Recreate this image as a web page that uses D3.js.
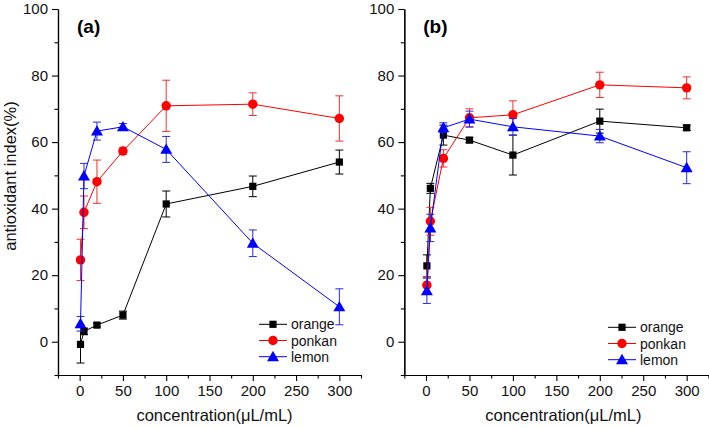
<!DOCTYPE html>
<html><head><meta charset="utf-8">
<script src="https://cdn.jsdelivr.net/npm/d3@7"></script>
<style>body{margin:0;background:#fff}svg{display:block}text{font-family:"Liberation Sans",Arial,sans-serif}</style>
</head><body><svg id="c" width="709" height="428"></svg>
<script>
const conc = [1, 5, 20, 50, 100, 200, 300];
const seriesNames = ["orange", "ponkan", "lemon"];
const xTicks = [0, 50, 100, 150, 200, 250, 300];
const yTicks = [0, 20, 40, 60, 80, 100];
// panel (a)
const aOrange = [-0.8, 3.1, 5.0, 8.0, 41.4, 46.7, 54.0];
const aOrangeErr = [5.6, 1.0, 0.6, 1.2, 3.9, 3.1, 3.6];
const aPonkan = [24.6, 38.9, 48.1, 57.3, 70.9, 71.4, 67.1];
const aPonkanErr = [6.2, 4.9, 6.5, 1.0, 7.7, 3.4, 6.8];
const aLemon = [5.4, 49.8, 63.3, 64.6, 57.8, 29.6, 10.5];
const aLemonErr = [2.2, 3.8, 2.7, 1.0, 3.9, 4.0, 5.4];
// panel (b)
const bOrange = [22.8, 46.1, 62.1, 60.6, 56.1, 66.3, 64.3];
const bOrangeErr = [3.3, 1.5, 3.0, 0.8, 6.0, 3.6, 0.8];
const bPonkan = [17.0, 36.2, 55.1, 67.3, 68.2, 77.2, 76.3];
const bPonkanErr = [2.5, 4.2, 2.6, 2.7, 4.2, 3.8, 3.3];
const bLemon = [15.3, 34.2, 64.3, 66.9, 64.6, 61.8, 52.3];
const bLemonErr = [3.8, 4.1, 1.5, 2.4, 2.5, 2.0, 4.8];

const colors = ["#000000", "#ff0000", "#0000ff"];
const errColors = ["#000000", "#f03030", "#2a2ae0"];
const symbols = [d3.symbolSquare, d3.symbolCircle, d3.symbolTriangle];
const symSizes = [52, 70, 62];

const svg = d3.select("#c");

function panel(cfg) {
  const g = svg.append("g");
  const x = d3.scaleLinear().domain([-25, 325]).range([cfg.x0, cfg.x1]);
  const y = d3.scaleLinear().domain([-10, 100]).range([375, 9]);

  const xAx = d3.axisBottom(x).tickValues(xTicks).tickSize(6).tickSizeOuter(0).tickPadding(4);
  const xMinor = d3.axisBottom(x).tickValues(d3.range(-25, 326, 25).filter(v => v % 50 !== 0)).tickSize(3.5).tickFormat("").tickSizeOuter(0);
  const yAx = d3.axisLeft(y).tickValues(yTicks).tickSize(6).tickSizeOuter(0).tickPadding(4);
  const yMinor = d3.axisLeft(y).tickValues(d3.range(-10, 101, 10).filter(v => v % 20 !== 0)).tickSize(3.5).tickFormat("").tickSizeOuter(0);
  [xAx, xMinor].forEach(a => g.append("g").attr("transform", `translate(0,${y(-10)})`).call(a));
  [yAx, yMinor].forEach(a => g.append("g").attr("transform", `translate(${x(-25)},0)`).call(a));
  g.selectAll(".domain").attr("stroke", "#000").attr("stroke-width", 1.2);
  g.selectAll(".tick line").attr("stroke", "#000").attr("stroke-width", 1.1);
  g.selectAll(".tick text").attr("font-size", 15).attr("fill", "#111")
    .attr("font-family", '"Liberation Sans",Arial,sans-serif');

  cfg.data.forEach((vals, si) => {
    const errs = cfg.errs[si];
    const pts = conc.map((c, i) => ({c, v: vals[i], e: errs[i]}));
    const sg = g.append("g");
    pts.forEach(p => {
      const cx = x(p.c);
      sg.append("line").attr("x1", cx).attr("x2", cx).attr("y1", y(p.v - p.e)).attr("y2", y(p.v + p.e))
        .attr("stroke", errColors[si]).attr("stroke-width", 1);
      [p.v - p.e, p.v + p.e].forEach(ev => sg.append("line").attr("x1", cx - 4).attr("x2", cx + 4)
        .attr("y1", y(ev)).attr("y2", y(ev)).attr("stroke", errColors[si]).attr("stroke-width", 1));
    });
    sg.append("path").datum(pts).attr("fill", "none").attr("stroke", colors[si]).attr("stroke-width", 1)
      .attr("d", d3.line().x(p => x(p.c)).y(p => y(p.v)));
    sg.selectAll("path.m").data(pts).join("path").attr("class", "m")
      .attr("transform", p => `translate(${x(p.c)},${y(p.v) + (si === 2 ? 1 : 0)})`)
      .attr("d", d3.symbol().type(symbols[si]).size(symSizes[si])).attr("fill", colors[si]);
  });

  seriesNames.forEach((n, si) => {
    const ly = cfg.ly + si * 16.2;
    g.append("line").attr("x1", cfg.lx).attr("x2", cfg.lx + 28).attr("y1", ly).attr("y2", ly)
      .attr("stroke", colors[si]).attr("stroke-width", 1);
    g.append("path").attr("transform", `translate(${cfg.lx + 14},${ly + (si === 2 ? 1 : 0)})`)
      .attr("d", d3.symbol().type(symbols[si]).size(symSizes[si])).attr("fill", colors[si]);
    g.append("text").attr("x", cfg.lx + 32).attr("y", ly + 5).attr("font-size", 14).attr("fill", "#111").text(n);
  });

  g.append("text").attr("x", cfg.x0 + 19).attr("y", 33).attr("font-size", 19).attr("font-weight", "bold").text(cfg.label);
  g.append("text").attr("x", (x(-25) + x(325)) / 2 + cfg.tdx).attr("y", 421).attr("text-anchor", "middle")
    .attr("font-size", 16.5).attr("fill", "#111").text("concentration(μL/mL)");
  if (cfg.ytitle) {
    g.append("text").attr("transform", `translate(16,176) rotate(-90)`).attr("text-anchor", "middle")
      .attr("font-size", 16.5).attr("fill", "#111").text("antioxidant index(%)");
  }
}

panel({x0: 58, x1: 361, data: [aOrange, aPonkan, aLemon], errs: [aOrangeErr, aPonkanErr, aLemonErr],
  label: "(a)", lx: 259, ly: 324.3, ytitle: true, tdx: 5});
panel({x0: 404.3, x1: 708.4, data: [bOrange, bPonkan, bLemon], errs: [bOrangeErr, bPonkanErr, bLemonErr],
  label: "(b)", lx: 608, ly: 327.3, ytitle: false, tdx: 7});
</script></body></html>
